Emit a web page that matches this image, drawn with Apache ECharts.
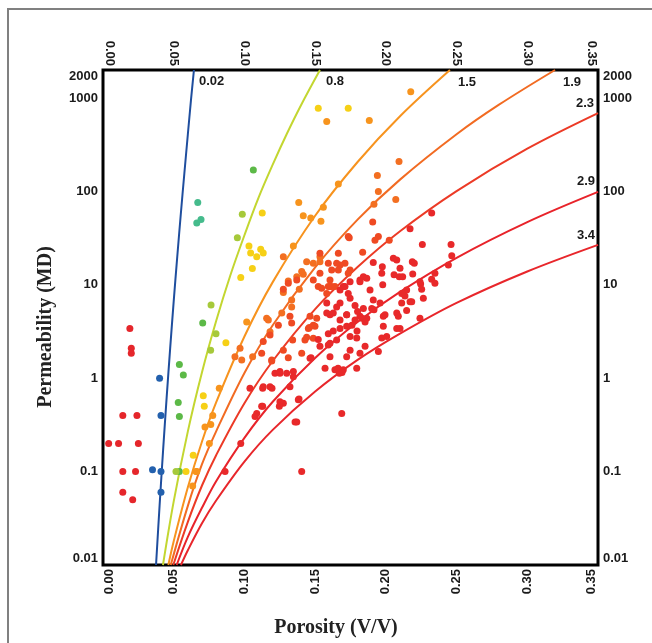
<!DOCTYPE html>
<html><head><meta charset="utf-8">
<script src="https://cdn.jsdelivr.net/npm/echarts@6/dist/echarts.min.js"></script>
<style>html,body{margin:0;padding:0;background:#fff}#c{width:652px;height:643px}</style>
</head><body><div id="c"></div>
<script>
// ---- ticks ----
const xTicks = [0, 0.05, 0.10, 0.15, 0.20, 0.25, 0.30, 0.35];
const yTicks = [0.01, 0.1, 1, 10, 100, 1000, 2000];
const yTickLabels = ['0.01', '0.1', '1', '10', '100', '1000', '2000'];

// ---- iso-lines [porosity, permeability] ----
const curveNames = ['0.02', '0.8', '1.5', '1.9', '2.3', '2.9', '3.4'];
const line002 = [[0.0375,0.01],[0.040,0.043],[0.0425,0.17],[0.045,0.62],[0.0475,2.1],[0.050,6.7],[0.0525,20],[0.055,57],[0.0575,155],[0.060,410],[0.0622,950],[0.0643,2000]];
const line08 = [[0.0424,0.01],[0.05,0.048],[0.06,0.27],[0.07,1.16],[0.08,4.1],[0.09,12.6],[0.10,34],[0.11,86],[0.12,194],[0.13,415],[0.14,840],[0.1534,2000]];
const line15 = [[0.0462,0.01],[0.05,0.018],[0.06,0.068],[0.07,0.21],[0.08,0.55],[0.10,2.8],[0.12,10.7],[0.15,55],[0.18,207],[0.21,640],[0.2453,2000]];
const line19 = [[0.0479,0.01],[0.06,0.043],[0.07,0.12],[0.08,0.27],[0.10,1.14],[0.12,3.7],[0.15,15.4],[0.18,50],[0.21,134],[0.25,410],[0.28,850],[0.3196,2000]];
const line23 = [[0.0497,0.01],[0.06,0.029],[0.07,0.071],[0.08,0.15],[0.10,0.54],[0.12,1.53],[0.15,5.5],[0.18,15.5],[0.21,37.5],[0.25,101],[0.30,287],[0.35,690]];
const line29 = [[0.0521,0.01],[0.06,0.02],[0.07,0.041],[0.08,0.079],[0.10,0.23],[0.12,0.56],[0.15,1.65],[0.18,4.0],[0.21,8.4],[0.25,19.5],[0.30,47],[0.35,99]];
const line34 = [[0.0551,0.01],[0.06,0.0144],[0.07,0.028],[0.08,0.049],[0.10,0.128],[0.12,0.28],[0.15,0.72],[0.18,1.57],[0.21,3.0],[0.25,6.4],[0.30,13.9],[0.35,26.8]];

// ---- samples [porosity, permeability] ----
const ptsRedLeft = [[0.019,3.4],[0.020,2.1],[0.020,1.85],[0.014,0.4],[0.024,0.4],[0.004,0.2],[0.011,0.2],[0.025,0.2],[0.014,0.1],[0.023,0.1],[0.014,0.06],[0.021,0.05]];
const ptsBlue = [[0.040,1.0],[0.041,0.4],[0.035,0.105],[0.041,0.1],[0.041,0.06]];
const ptsTeal = [[0.067,76],[0.0663,46],[0.0693,50]];
const ptsGreen = [[0.1063,170],[0.0705,3.9],[0.054,1.4],[0.0568,1.08],[0.0532,0.55],[0.054,0.39],[0.054,0.1]];
const ptsYellowGreen = [[0.0985,57],[0.095,32],[0.0764,6.1],[0.0516,0.1],[0.0799,3.0],[0.0761,2.0]];
const ptsYellow = [[0.1126,59],[0.1032,26],[0.1044,22],[0.1115,24],[0.1133,22],[0.1087,20],[0.1056,15],[0.0974,12],[0.1522,780],[0.1734,780],[0.0869,2.4],[0.0709,0.65],[0.0716,0.5],[0.0638,0.15],[0.0587,0.1]];
const ptsOrange = [[0.1582,560],[0.1883,575],[0.2176,1170],[0.1384,76],[0.1416,55],[0.1469,52],[0.1541,48],[0.1558,68],[0.1664,120],[0.1346,26],[0.1016,4.0],[0.0663,0.1],[0.0634,0.07],[0.0721,0.3],[0.0752,0.2],[0.0776,0.4],[0.0822,0.78],[0.0762,0.32],[0.0658,0.1]];
const ptsDarkOrange = [[0.194,148],[0.1947,100],[0.1916,73],[0.207,82],[0.2093,209],[0.1487,17],[0.1416,13],[0.137,12.2],[0.131,11],[0.1275,8.3],[0.1334,6.9],[0.1388,9.0],[0.1169,4.2],[0.0933,1.7],[0.0969,2.1],[0.0981,1.57],[0.1058,1.7],[0.1157,4.4],[0.1181,3.15],[0.1264,5.0],[0.1334,5.8],[0.1534,20],[0.1534,17.7],[0.1275,20],[0.1405,13.9],[0.144,17.7]];
const ptsOrangeRed = [[0.1907,47],[0.1741,32],[0.1947,33],[0.1923,30],[0.2024,30],[0.1836,22.3],[0.1664,14.4],[0.1593,17],[0.1747,14.4],[0.1711,17],[0.1617,14.4],[0.1676,16.3],[0.1664,21.8],[0.1534,21.8],[0.1734,33],[0.1605,11.3],[0.1652,17],[0.1734,13.3],[0.1522,9.6],[0.1582,8.1],[0.164,9.6],[0.1605,9.6],[0.1617,9.6],[0.1546,9.2],[0.1593,9.6],[0.1534,13.3],[0.1487,11.3],[0.1275,9.0],[0.131,10.4],[0.137,11.3],[0.1322,4.6],[0.124,3.7],[0.1181,2.9],[0.1275,2.0],[0.1193,1.57],[0.1122,1.85],[0.1133,2.47],[0.1464,4.6],[0.1334,3.9],[0.1499,3.6],[0.1452,3.4],[0.1511,4.4],[0.1428,2.57],[0.1487,2.68],[0.1459,3.5],[0.1487,3.7],[0.144,2.74],[0.1341,2.57],[0.1193,1.53],[0.131,1.66],[0.1405,1.85]];
const ptsRed = [[0.2324,59],[0.2171,40],[0.2258,27],[0.2461,27],[0.2466,20.5],[0.2442,16.3],[0.2187,17.7],[0.2201,17],[0.2077,18.5],[0.2053,19.3],[0.1911,17.4],[0.1975,15.6],[0.1971,13.3],[0.2058,12.8],[0.2095,12.2],[0.2119,12.2],[0.219,13.1],[0.2324,11.5],[0.2347,13.3],[0.2347,10.4],[0.2246,10.2],[0.2265,7.2],[0.2241,4.4],[0.2171,6.6],[0.2135,7.6],[0.2112,6.4],[0.2077,5.0],[0.1959,6.4],[0.1916,5.4],[0.1982,4.6],[0.1865,4.4],[0.1747,7.2],[0.1699,9.6],[0.1817,11.3],[0.1841,12.2],[0.21,15.1],[0.1978,10],[0.2253,9.0],[0.2241,10.8],[0.2147,8.8],[0.2183,6.6],[0.2112,8.1],[0.2147,5.3],[0.2088,4.6],[0.2077,3.4],[0.1994,4.8],[0.1982,3.6],[0.1971,2.7],[0.1947,1.93],[0.2006,2.8],[0.21,3.4],[0.1911,6.9],[0.19,5.6],[0.1841,5.6],[0.1817,4.6],[0.1782,4.2],[0.1723,4.8],[0.1723,3.6],[0.1747,2.8],[0.1794,2.7],[0.1853,2.2],[0.1817,1.85],[0.1747,2.0],[0.1723,1.7],[0.1676,3.4],[0.1652,2.57],[0.1605,1.7],[0.164,1.23],[0.1671,1.13],[0.157,1.28],[0.1794,1.28],[0.1688,0.42],[0.1381,0.59],[0.1322,0.81],[0.1275,0.54],[0.1133,0.81],[0.1181,0.81],[0.1087,0.42],[0.1216,1.13],[0.1251,1.13],[0.1299,1.13],[0.1346,1.04],[0.1464,1.64],[0.1534,2.2],[0.1593,2.27],[0.1605,4.8],[0.1582,6.4],[0.1652,5.8],[0.1734,8.1],[0.1817,10.8],[0.1747,10.8],[0.1676,8.8],[0.1888,8.8],[0.1865,11.8],[0.1039,0.78],[0.1129,0.78],[0.1195,0.78],[0.1122,0.5],[0.1251,0.56],[0.1247,0.5],[0.1075,0.39],[0.0974,0.2],[0.0863,0.1],[0.137,0.34],[0.1405,0.1],[0.1386,0.6],[0.1251,1.18],[0.1346,1.18],[0.1471,1.66],[0.1522,2.6],[0.1605,2.37],[0.1593,3.0],[0.1628,3.2],[0.1652,1.23],[0.1699,1.23],[0.1676,4.2],[0.1676,6.4],[0.1628,5.0],[0.1582,5.0],[0.1723,4.8],[0.1711,9.6],[0.1782,6.0],[0.18,5.2],[0.1831,4.4],[0.1853,4.0],[0.176,3.7],[0.1796,3.2],[0.1662,1.28],[0.169,1.15],[0.1129,0.5],[0.1358,0.34]];

const labelFont = {fontFamily: '"Liberation Sans", Arial, sans-serif', fontWeight: 'bold', fontSize: 13, color: '#1a1a1a'};
const titleFont = 'bold 20px "Liberation Serif", "Times New Roman", serif';

function yFmt(v) {
  for (let i = 0; i < yTicks.length; i++) {
    if (Math.abs(Math.log10(yTicks[i]) - Math.log10(v)) < 1e-6) return yTickLabels[i];
  }
  return '';
}
function xFmt(v) { return v.toFixed(2); }

function xAxisDef(pos) {
  const top = pos === 'top';
  return {
    type: 'value', position: pos, min: xTicks[0], max: xTicks[xTicks.length - 1], interval: 0.05,
    axisLine: {show: false}, axisTick: {show: false}, splitLine: {show: false},
    axisLabel: Object.assign({}, labelFont, {rotate: 90, margin: 4, formatter: xFmt,
      verticalAlignMinLabel: top ? 'bottom' : 'top', verticalAlignMaxLabel: top ? 'top' : 'bottom'})
  };
}
function yAxisDef(pos) {
  return {
    type: 'log', logBase: 10, position: pos, min: 0.01, max: 2000,
    axisLine: {show: false}, axisTick: {show: false}, splitLine: {show: false}, minorSplitLine: {show: false},
    axisLabel: Object.assign({}, labelFont, {margin: 5, formatter: yFmt, customValues: yTicks,
      verticalAlignMinLabel: 'bottom', verticalAlignMaxLabel: 'top'})
  };
}

function curve(name, data, color, align, offset) {
  return {
    type: 'line', name: name, data: data, xAxisIndex: 0, yAxisIndex: 0,
    showSymbol: false, symbol: 'none', smooth: 0.35,
    lineStyle: {color: color, width: 2}, z: 2, silent: true,
    markPoint: {
      symbol: 'circle', symbolSize: 1, silent: true, itemStyle: {color: 'rgba(0,0,0,0)'},
      label: Object.assign({}, labelFont, {show: true, position: 'inside', formatter: name, align: align, verticalAlign: 'middle', offset: offset}),
      data: [{coord: data[data.length - 1]}]
    }
  };
}
function pts(data, color) {
  return {type: 'scatter', data: data, xAxisIndex: 0, yAxisIndex: 0, symbol: 'circle', symbolSize: 7,
    itemStyle: {color: color, opacity: 1}, z: 3, silent: true};
}

const chart = echarts.init(document.getElementById('c'), null, {renderer: 'canvas'});
chart.setOption({
  animation: false,
  backgroundColor: '#fff',
  grid: {left: 103, right: 54, top: 70, bottom: 78, show: true, borderColor: '#000', borderWidth: 3, containLabel: false, outerBoundsMode: 'none'},
  xAxis: [xAxisDef('bottom'), xAxisDef('top')],
  yAxis: [yAxisDef('left'), yAxisDef('right')],
  graphic: [
    {type: 'rect', shape: {x: 8, y: 9, width: 700, height: 700}, style: {fill: 'none', stroke: '#808080', lineWidth: 2}, z: -10, silent: true},
    {type: 'text', x: 336, y: 628, style: {text: 'Porosity (V/V)', font: titleFont, fill: '#222', textAlign: 'center', textVerticalAlign: 'middle'}},
    {type: 'text', x: 46, y: 327, rotation: Math.PI / 2, style: {text: 'Permeability (MD)', font: titleFont, fill: '#222', textAlign: 'center', textVerticalAlign: 'middle'}}
  ],
  series: [
    curve(curveNames[0], line002, '#1f4e9e', 'left', [5, 11]),
    curve(curveNames[1], line08, '#c3d630', 'left', [6, 11]),
    curve(curveNames[2], line15, '#f7931e', 'left', [8, 12]),
    curve(curveNames[3], line19, '#f26b22', 'left', [8, 12]),
    curve(curveNames[4], line23, '#ec3a26', 'right', [-4, -10]),
    curve(curveNames[5], line29, '#e8232a', 'right', [-3, -10]),
    curve(curveNames[6], line34, '#e8262b', 'right', [-3, -9]),
    pts(ptsRedLeft, '#e5262b'),
    pts(ptsBlue, '#2360ad'),
    pts(ptsTeal, '#45bb8c'),
    pts(ptsGreen, '#5cb947'),
    pts(ptsYellowGreen, '#a6c93a'),
    pts(ptsYellow, '#f6d016'),
    pts(ptsOrange, '#f7941d'),
    pts(ptsDarkOrange, '#f36f21'),
    pts(ptsOrangeRed, '#ef4a23'),
    pts(ptsRed, '#e8292a')
  ]
});
</script>
</body></html>
